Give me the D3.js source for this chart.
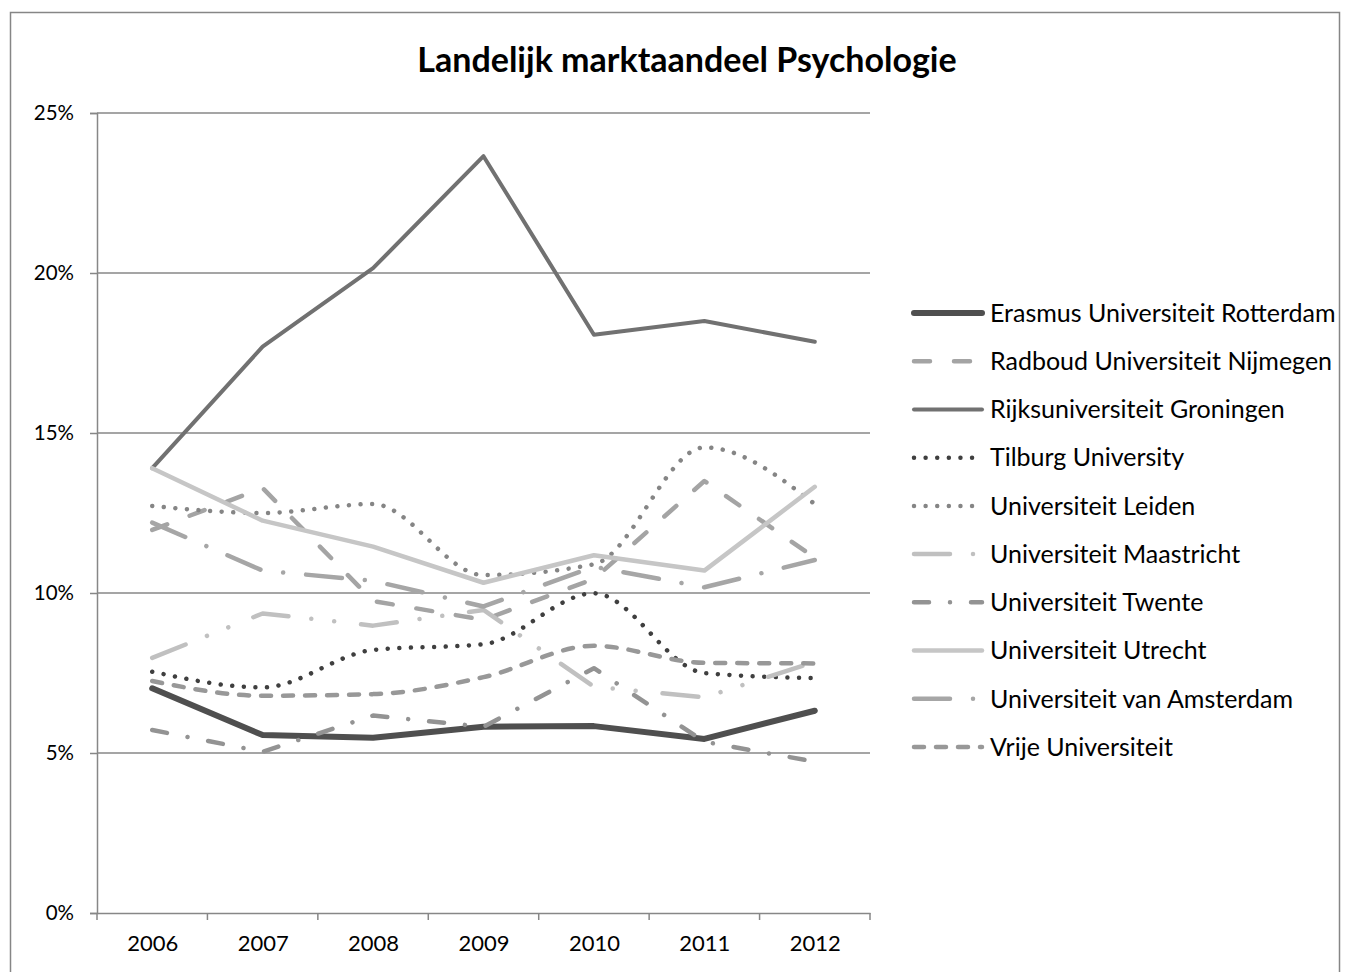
<!DOCTYPE html>
<html>
<head>
<meta charset="utf-8">
<script src="https://cdn.jsdelivr.net/npm/d3@7"></script>
<style>
  html, body { margin: 0; padding: 0; background: #fff; }
  svg text { font-family: Lato, "Open Sans", sans-serif; fill: #000; }
</style>
</head>
<body>
<svg id="chart" width="1350" height="972"></svg>
<script>
// ---- Data (market share, %) ----
const years = ["2006", "2007", "2008", "2009", "2010", "2011", "2012"];
const yTicks = [0, 5, 10, 15, 20, 25];
const seriesNames = [
  "Erasmus Universiteit Rotterdam",
  "Radboud Universiteit Nijmegen",
  "Rijksuniversiteit Groningen",
  "Tilburg University",
  "Universiteit Leiden",
  "Universiteit Maastricht",
  "Universiteit Twente",
  "Universiteit Utrecht",
  "Universiteit van Amsterdam",
  "Vrije Universiteit"
];
const erasmus    = [7.02, 5.56, 5.48, 5.82, 5.84, 5.44, 6.32];
const radboud    = [11.97, 13.28, 9.75, 9.16, 10.44, 13.5, 11.1];
const groningen  = [13.9, 17.7, 20.15, 23.65, 18.07, 18.5, 17.85];
const tilburg    = [7.54, 7.05, 8.22, 8.4, 9.99, 7.5, 7.34];
const leiden     = [12.72, 12.5, 12.78, 10.56, 10.9, 14.55, 12.78];
const maastricht = [7.97, 9.36, 8.98, 9.47, 7.07, 6.74, 7.85];
const twente     = [5.72, 5.04, 6.17, 5.82, 7.65, 5.35, 4.73];
const utrecht    = [13.9, 12.26, 11.45, 10.32, 11.18, 10.7, 13.32];
const amsterdam  = [12.2, 10.7, 10.38, 9.58, 10.82, 10.18, 11.03];
const vrije      = [7.25, 6.79, 6.84, 7.37, 8.35, 7.82, 7.8];
const seriesValues = [erasmus, radboud, groningen, tilburg, leiden, maastricht, twente, utrecht, amsterdam, vrije];

// ---- Styles ----
const styles = [
  { color: "#4f4f4f", width: 6,   dash: null,                       smooth: false },
  { color: "#a4a4a4", width: 4.5, dash: "16,24",                    smooth: false },
  { color: "#717171", width: 4,   dash: null,                       smooth: false },
  { color: "#3f3f3f", width: 4.5, dash: "0.01,11.6",                smooth: true  },
  { color: "#858585", width: 4.5, dash: "0.01,11.6",                smooth: true  },
  { color: "#c0c0c0", width: 4.5, dash: "36,23,0.01,23,0.01,27",    smooth: false },
  { color: "#939393", width: 4.5, dash: "15,21,0.01,21",            smooth: false },
  { color: "#c6c6c6", width: 4.5, dash: null,                       smooth: false },
  { color: "#a6a6a6", width: 4.5, dash: "36,23,0.01,23",            smooth: false },
  { color: "#989898", width: 4.5, dash: "10,12",                    smooth: true  }
];

const svg = d3.select("#chart");

// outer border
svg.append("rect")
  .attr("x", 10.5).attr("y", 12.5).attr("width", 1329).attr("height", 975)
  .attr("fill", "none").attr("stroke", "#868686").attr("stroke-width", 1.5);

// title
svg.append("text")
  .attr("x", 687).attr("y", 72)
  .attr("text-anchor", "middle")
  .attr("font-size", 34).attr("font-weight", "bold")
  .text("Landelijk marktaandeel Psychologie");

const plot = { left: 97, right: 870, top: 113, bottom: 913 };

const xBand = d3.scaleBand().domain(years).range([plot.left, plot.right]).padding(0);
const x = d3.scalePoint().domain(years).range([plot.left, plot.right]).padding(0.5);
const y = d3.scaleLinear().domain([0, 25]).range([plot.bottom, plot.top]);

// gridlines
svg.append("g").selectAll("line")
  .data(yTicks.filter(d => d > 0))
  .join("line")
  .attr("x1", plot.left).attr("x2", plot.right)
  .attr("y1", d => y(d)).attr("y2", d => y(d))
  .attr("stroke", "#878787").attr("stroke-width", 1.5);

// y axis
const yAxis = svg.append("g")
  .attr("transform", `translate(${plot.left},0)`)
  .call(d3.axisLeft(y).tickValues(yTicks).tickFormat(d => d + "%").tickSize(7).tickPadding(16));
yAxis.select(".domain").attr("stroke", "#878787").attr("stroke-width", 1.5);
yAxis.selectAll(".tick line").attr("stroke", "#878787").attr("stroke-width", 1.5);
yAxis.selectAll(".tick text").attr("font-size", 20.5).attr("font-family", "Lato").attr("fill", "#000");

// x axis
const xAxis = svg.append("g")
  .attr("transform", `translate(0,${plot.bottom})`)
  .call(d3.axisBottom(x).tickSize(0).tickPadding(22));
xAxis.select(".domain").attr("stroke", "#878787").attr("stroke-width", 1.5);
xAxis.selectAll(".tick text").attr("font-size", 22).attr("font-family", "Lato").attr("fill", "#000");
const xEdges = years.map(d => xBand(d)).concat([xBand(years[years.length - 1]) + xBand.bandwidth()]);
xAxis.selectAll(".edge")
  .data(xEdges)
  .join("line")
  .attr("class", "edge")
  .attr("x1", d => d).attr("x2", d => d)
  .attr("y1", 0).attr("y2", 7)
  .attr("stroke", "#878787").attr("stroke-width", 1.5);

// lines
const lineLinear = d3.line().x((d, i) => x(years[i])).y(d => y(d)).curve(d3.curveLinear);
const lineSmooth = d3.line().x((d, i) => x(years[i])).y(d => y(d)).curve(d3.curveMonotoneX);

svg.append("g").selectAll("path")
  .data(seriesValues.map((v, i) => ({ v, s: styles[i] })))
  .join("path")
  .attr("d", d => (d.s.smooth ? lineSmooth : lineLinear)(d.v))
  .attr("fill", "none")
  .attr("stroke", d => d.s.color)
  .attr("stroke-width", d => d.s.width)
  .attr("stroke-dasharray", d => d.s.dash)
  .attr("stroke-linecap", "round")
  .attr("stroke-linejoin", "round");

// legend
const legend = svg.append("g");
const legendY = d3.scalePoint().domain(seriesNames).range([313, 747]);
const items = legend.selectAll("g")
  .data(seriesNames.map((n, i) => ({ n, s: styles[i] })))
  .join("g")
  .attr("transform", d => `translate(0,${legendY(d.n)})`);
items.append("line")
  .attr("x1", 914).attr("x2", 982).attr("y1", 0).attr("y2", 0)
  .attr("stroke", d => d.s.color)
  .attr("stroke-width", d => d.s.width)
  .attr("stroke-dasharray", d => d.s.dash)
  .attr("stroke-linecap", "round");
items.append("text")
  .attr("x", 990).attr("y", 0).attr("dy", "0.35em")
  .attr("font-size", 25)
  .text(d => d.n);
</script>
</body>
</html>
